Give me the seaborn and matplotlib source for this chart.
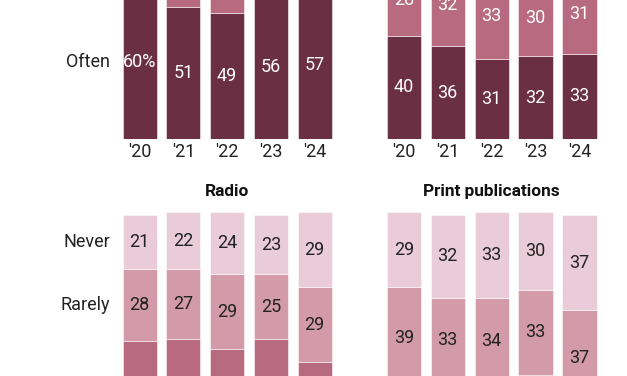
# Stacked bars: how often U.S. adults get news from each platform, 2020-2024
import numpy as np
import seaborn as sns
import matplotlib.pyplot as plt

years = ["'20", "'21", "'22", "'23", "'24"]
levels = ['Often', 'Sometimes', 'Rarely', 'Never']

# values per platform (bottom to top: often, sometimes, rarely, never)
digital_often = [60, 51, 49, 56, 57]
digital_sometimes = [26, 31, 33, 30, 29]
digital_rarely = [8, 11, 11, 9, 9]
digital_never = [5, 6, 7, 5, 5]

tv_often = [40, 36, 31, 32, 33]
tv_sometimes = [28, 32, 33, 30, 31]
tv_rarely = [19, 19, 21, 21, 20]
tv_never = [13, 13, 15, 16, 16]

radio_often = [16, 13, 11, 12, 11]
radio_sometimes = [35, 39, 37, 40, 32]
radio_rarely = [28, 27, 29, 25, 29]
radio_never = [21, 22, 24, 23, 29]

print_often = [10, 9, 8, 10, 8]
print_sometimes = [23, 26, 26, 28, 18]
print_rarely = [39, 33, 34, 33, 37]
print_never = [29, 32, 33, 30, 37]

colors = ['#6b2f44', '#b86b80', '#d39aa9', '#e9ccd7']
text_colors = ['white', 'white', '#222222', '#222222']

sns.set_theme(style='white')
plt.rcParams['font.family'] = ['Roboto', 'DejaVu Sans']

W, H = 627, 376
fig = plt.figure(figsize=(W / 100, H / 100), dpi=100)

# panel placement in pixels (the picture only shows part of each panel)
px_per_pct = 2.58
ymax = 105
left_x, right_x = 117.8, 381.9
left_w, right_w = 218.75, 219.5
top_base, bottom_base = 139, 473


def make_ax(x0, w, base):
    return fig.add_axes([x0 / W, (H - base) / H, w / W, ymax * px_per_pct / H])


def draw_panel(ax, series, title=None, pct_first=False):
    bottom = np.zeros(len(years))
    for k, vals in enumerate(series):
        sns.barplot(x=years, y=vals, bottom=bottom, color=colors[k],
                    saturation=1, width=0.777, errorbar=None, ax=ax,
                    edgecolor=(1, 1, 1, 0.6), linewidth=0.6)
        for i, v in enumerate(vals):
            label = str(v) + ('%' if pct_first and i == 0 else '')
            ax.text(i, bottom[i] + v / 2, label, ha='center', va='center',
                    color=text_colors[k], fontsize=13)
        bottom = bottom + np.array(vals)
    ax.set_xlim(-0.5, 4.5)
    ax.set_ylim(0, ymax)
    ax.set_yticks([])
    ax.set_ylabel('')
    ax.tick_params(axis='x', length=0, pad=3, labelsize=13, colors='#222222')
    sns.despine(ax=ax, left=True, bottom=True)
    if title:
        ax.text(2, 109, title, ha='center', va='center', fontsize=12.4,
                fontweight='bold', color='#111111')


ax1 = make_ax(left_x, left_w, top_base)
ax2 = make_ax(right_x, right_w, top_base)
ax3 = make_ax(left_x, left_w, bottom_base)
ax4 = make_ax(right_x, right_w, bottom_base)

draw_panel(ax1, [digital_often, digital_sometimes, digital_rarely, digital_never],
           pct_first=True)
draw_panel(ax2, [tv_often, tv_sometimes, tv_rarely, tv_never])
draw_panel(ax3, [radio_often, radio_sometimes, radio_rarely, radio_never], 'Radio')
draw_panel(ax4, [print_often, print_sometimes, print_rarely, print_never],
           'Print publications')

# row labels next to the first bar of the left panels
ax1.text(-0.68, digital_often[0] / 2, 'Often', ha='right', va='center',
         fontsize=13, color='#222222')
r0 = radio_often[0] + radio_sometimes[0]
ax3.text(-0.68, r0 + radio_rarely[0] / 2, 'Rarely', ha='right', va='center',
         fontsize=13, color='#222222')
ax3.text(-0.68, r0 + radio_rarely[0] + radio_never[0] / 2, 'Never', ha='right',
         va='center', fontsize=13, color='#222222')

fig.savefig('out.png', dpi=100)
